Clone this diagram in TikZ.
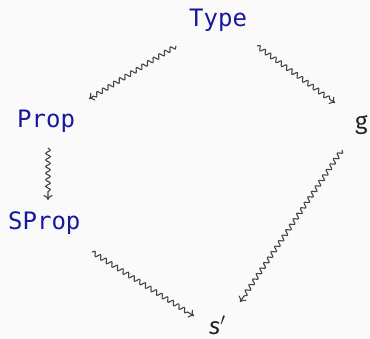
\documentclass[tikz,border=0pt]{standalone}
\usepackage{fontspec}
\setmainfont{Fira Sans}
\newfontfamily\codefont{DejaVu Sans Mono}
\usetikzlibrary{decorations.pathmorphing,arrows.meta,calc}
\definecolor{bgc}{HTML}{FAFAFA}
\definecolor{kw}{HTML}{18189C}
\definecolor{arc}{HTML}{3C464E}
\definecolor{txt}{HTML}{222222}
\begin{document}
\begin{tikzpicture}[x=1pt,y=-1pt,
  code/.style={font=\codefont\fontsize{24}{28}\selectfont, text=kw, inner sep=0pt, anchor=base west},
  plain/.style={font=\fontsize{24}{28}\selectfont, text=txt, inner sep=0pt, anchor=base west},
  arr/.style={draw=arc, line width=1.1pt, -{To[length=5pt,width=9pt]},
    decorate, decoration={snake, segment length=6.6pt, amplitude=2.2pt, post length=5pt}}]
\fill[bgc] (0,0) rectangle (370,339);
\useasboundingbox (0,0) rectangle (370,339);
\node[code] (type) at (189,27) {Type};
\node[code] (prop) at (17,128) {Prop};
\node[plain] (g) at (355,130) {g};
\node[code] (sprop) at (8,230) {SProp};
\node[plain] (s) at (209,335) {\itshape s$'$};
\draw[arr] ($(type.base west)+(-13,19)$) -- ($(prop.base west)+(72,-29)$);
\draw[arr] ($(type.base west)+(68,19)$) -- ($(g.base west)+(-20,-27)$);
\draw[arr] ($(prop.base west)+(31,20)$) -- ($(sprop.base west)+(40,-30)$);
\draw[arr] ($(sprop.base west)+(84,22)$) -- ($(s.base west)+(-15,-19)$);
\draw[arr] ($(g.base west)+(-13,20)$) -- ($(s.base west)+(31,-33)$);
\end{tikzpicture}
\end{document}
